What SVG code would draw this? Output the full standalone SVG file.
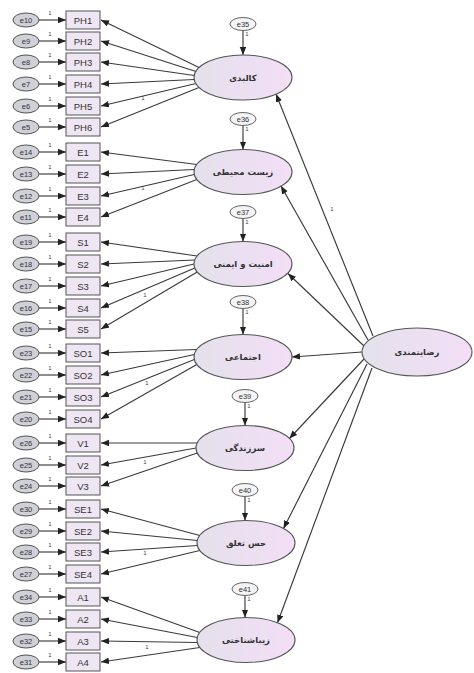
<svg xmlns="http://www.w3.org/2000/svg" width="474" height="673" viewBox="0 0 474 673">
<style>
.box{fill:#efe6f3;stroke:#555;stroke-width:1}
.err{fill:#d0d0d8;stroke:#555;stroke-width:1}
.merr{fill:#f4f4f6;stroke:#666;stroke-width:1}
.lat{fill:url(#lg);stroke:#555;stroke-width:1.1}
.t{font-family:"Liberation Sans",Arial,sans-serif;font-size:9.5px;fill:#333;text-anchor:middle;dominant-baseline:central}
.te{font-family:"Liberation Sans",Arial,sans-serif;font-size:7.5px;fill:#333;text-anchor:middle;dominant-baseline:central}
.ta{font-family:"DejaVu Sans","Noto Sans",sans-serif;font-size:8.5px;font-weight:bold;fill:#333;text-anchor:middle;dominant-baseline:central}
.one{font-family:"Liberation Sans",Arial,sans-serif;font-size:6px;fill:#444;text-anchor:middle}
.c line{stroke:#3a3a3a;stroke-width:1.15;marker-end:url(#ah)}
</style>
<defs>
<linearGradient id="lg" x1="0" y1="0" x2="1" y2="0">
<stop offset="0" stop-color="#e4e1ec"/>
<stop offset="1" stop-color="#f3def6"/>
</linearGradient>
<marker id="ah" markerUnits="userSpaceOnUse" markerWidth="9" markerHeight="7" refX="8" refY="3.25" orient="auto">
<path d="M0,0 L8,3.25 L0,6.5 z" fill="#222"/>
</marker>
</defs>
<rect width="474" height="673" fill="#fff"/>

<g class="c" id="connectors">
<!-- error to indicators -->
<line x1="39" y1="20" x2="66" y2="20"/><line x1="39" y1="41" x2="66" y2="41"/><line x1="39" y1="62" x2="66" y2="62"/><line x1="39" y1="84" x2="66" y2="84"/><line x1="39" y1="106" x2="66" y2="106"/><line x1="39" y1="127" x2="66" y2="127"/>
<line x1="39" y1="152" x2="66" y2="152"/><line x1="39" y1="174" x2="66" y2="174"/><line x1="39" y1="196" x2="66" y2="196"/><line x1="39" y1="217" x2="66" y2="217"/>
<line x1="39" y1="242" x2="66" y2="242"/><line x1="39" y1="264" x2="66" y2="264"/><line x1="39" y1="286" x2="66" y2="286"/><line x1="39" y1="308" x2="66" y2="308"/><line x1="39" y1="329" x2="66" y2="329"/>
<line x1="39" y1="353" x2="66" y2="353"/><line x1="39" y1="375" x2="66" y2="375"/><line x1="39" y1="397" x2="66" y2="397"/><line x1="39" y1="419" x2="66" y2="419"/>
<line x1="39" y1="443" x2="66" y2="443"/><line x1="39" y1="465" x2="66" y2="465"/><line x1="39" y1="486" x2="66" y2="486"/>
<line x1="39" y1="509" x2="66" y2="509"/><line x1="39" y1="531" x2="66" y2="531"/><line x1="39" y1="552" x2="66" y2="552"/><line x1="39" y1="574" x2="66" y2="574"/>
<line x1="39" y1="597" x2="66" y2="597"/><line x1="39" y1="619" x2="66" y2="619"/><line x1="39" y1="641" x2="66" y2="641"/><line x1="39" y1="662" x2="66" y2="662"/>
<!-- latents to indicators -->
<line x1="199" y1="67.5" x2="101" y2="20"/><line x1="196" y1="71.5" x2="101" y2="41"/><line x1="194.2" y1="75.5" x2="101" y2="62"/><line x1="194.2" y1="79.5" x2="101" y2="84"/><line x1="196" y1="83.5" x2="101" y2="106"/><line x1="199" y1="87.5" x2="101" y2="127"/>
<line x1="196.8" y1="164.5" x2="101" y2="152"/><line x1="194.3" y1="169.5" x2="101" y2="174"/><line x1="194.3" y1="174.5" x2="101" y2="196"/><line x1="196.8" y1="179.5" x2="101" y2="217"/>
<line x1="197.2" y1="256" x2="101" y2="242"/><line x1="194.8" y1="260" x2="101" y2="264"/><line x1="194" y1="264" x2="101" y2="286"/><line x1="194.8" y1="268" x2="101" y2="308"/><line x1="197.2" y1="272" x2="101" y2="329"/>
<line x1="196.8" y1="349.5" x2="101" y2="353"/><line x1="194.3" y1="354.5" x2="101" y2="375"/><line x1="194.3" y1="359.5" x2="101" y2="397"/><line x1="196.8" y1="364.5" x2="101" y2="419"/>
<line x1="197.2" y1="443" x2="101" y2="443"/><line x1="196" y1="448" x2="101" y2="465"/><line x1="197.2" y1="453" x2="101" y2="486"/>
<line x1="199.8" y1="535.5" x2="101" y2="509"/><line x1="197.3" y1="540.5" x2="101" y2="531"/><line x1="197.3" y1="545.5" x2="101" y2="552"/><line x1="199.8" y1="550.5" x2="101" y2="574"/>
<line x1="199.8" y1="632.5" x2="101" y2="597"/><line x1="197.3" y1="637.5" x2="101" y2="619"/><line x1="197.3" y1="642.5" x2="101" y2="641"/><line x1="199.8" y1="647.5" x2="101" y2="662"/>
<!-- structural errors -->
<line x1="243" y1="30.5" x2="243" y2="55"/>
<line x1="243" y1="125.5" x2="243" y2="149.5"/>
<line x1="243" y1="218.5" x2="243" y2="241.5"/>
<line x1="243" y1="308.5" x2="243" y2="334.5"/>
<line x1="245" y1="402.5" x2="245" y2="425.5"/>
<line x1="245" y1="496.5" x2="245" y2="520.5"/>
<line x1="245" y1="595.5" x2="245" y2="617.5"/>
<!-- main latent to sub latents -->
<line x1="373" y1="336" x2="276" y2="94"/>
<line x1="368" y1="340" x2="281" y2="186"/>
<line x1="364" y1="346" x2="288" y2="273.5"/>
<line x1="362" y1="352" x2="292" y2="357"/>
<line x1="364" y1="359" x2="289.4" y2="438.5"/>
<line x1="367" y1="364" x2="283.5" y2="528.5"/>
<line x1="372" y1="368" x2="277.5" y2="622.8"/>
</g>

<g id="labels-one">
<text class="one" x="50" y="15">1</text><text class="one" x="50" y="36">1</text><text class="one" x="50" y="57">1</text><text class="one" x="50" y="79">1</text><text class="one" x="50" y="101">1</text><text class="one" x="50" y="122">1</text>
<text class="one" x="50" y="147">1</text><text class="one" x="50" y="169">1</text><text class="one" x="50" y="191">1</text><text class="one" x="50" y="212">1</text>
<text class="one" x="50" y="237">1</text><text class="one" x="50" y="259">1</text><text class="one" x="50" y="281">1</text><text class="one" x="50" y="303">1</text><text class="one" x="50" y="324">1</text>
<text class="one" x="50" y="348">1</text><text class="one" x="50" y="370">1</text><text class="one" x="50" y="392">1</text><text class="one" x="50" y="414">1</text>
<text class="one" x="50" y="438">1</text><text class="one" x="50" y="460">1</text><text class="one" x="50" y="481">1</text>
<text class="one" x="50" y="504">1</text><text class="one" x="50" y="526">1</text><text class="one" x="50" y="547">1</text><text class="one" x="50" y="569">1</text>
<text class="one" x="50" y="592">1</text><text class="one" x="50" y="614">1</text><text class="one" x="50" y="636">1</text><text class="one" x="50" y="657">1</text>
<text class="one" x="143" y="100">1</text><text class="one" x="143" y="190">1</text><text class="one" x="145" y="297">1</text><text class="one" x="147" y="385">1</text><text class="one" x="145" y="464">1</text><text class="one" x="145" y="555">1</text><text class="one" x="147" y="649">1</text>
<text class="one" x="247" y="36">1</text><text class="one" x="247" y="131">1</text><text class="one" x="247" y="224">1</text><text class="one" x="247" y="314">1</text><text class="one" x="249" y="408">1</text><text class="one" x="249" y="502">1</text><text class="one" x="249" y="601">1</text>
<text class="one" x="332" y="211">1</text>
</g>

<g id="indicators">
<g id="PH1"><ellipse class="err" cx="26" cy="20" rx="13" ry="7"/><text class="te" x="26" y="20">e10</text><rect class="box" x="66" y="11" width="34" height="18"/><text class="t" x="83" y="20">PH1</text></g>
<g id="PH2"><ellipse class="err" cx="26" cy="41" rx="13" ry="7"/><text class="te" x="26" y="41">e9</text><rect class="box" x="66" y="32" width="34" height="18"/><text class="t" x="83" y="41">PH2</text></g>
<g id="PH3"><ellipse class="err" cx="26" cy="62" rx="13" ry="7"/><text class="te" x="26" y="62">e8</text><rect class="box" x="66" y="53" width="34" height="18"/><text class="t" x="83" y="62">PH3</text></g>
<g id="PH4"><ellipse class="err" cx="26" cy="84" rx="13" ry="7"/><text class="te" x="26" y="84">e7</text><rect class="box" x="66" y="75" width="34" height="18"/><text class="t" x="83" y="84">PH4</text></g>
<g id="PH5"><ellipse class="err" cx="26" cy="106" rx="13" ry="7"/><text class="te" x="26" y="106">e6</text><rect class="box" x="66" y="97" width="34" height="18"/><text class="t" x="83" y="106">PH5</text></g>
<g id="PH6"><ellipse class="err" cx="26" cy="127" rx="13" ry="7"/><text class="te" x="26" y="127">e5</text><rect class="box" x="66" y="118" width="34" height="18"/><text class="t" x="83" y="127">PH6</text></g>
<g id="E1"><ellipse class="err" cx="26" cy="152" rx="13" ry="7"/><text class="te" x="26" y="152">e14</text><rect class="box" x="66" y="143" width="34" height="18"/><text class="t" x="83" y="152">E1</text></g>
<g id="E2"><ellipse class="err" cx="26" cy="174" rx="13" ry="7"/><text class="te" x="26" y="174">e13</text><rect class="box" x="66" y="165" width="34" height="18"/><text class="t" x="83" y="174">E2</text></g>
<g id="E3"><ellipse class="err" cx="26" cy="196" rx="13" ry="7"/><text class="te" x="26" y="196">e12</text><rect class="box" x="66" y="187" width="34" height="18"/><text class="t" x="83" y="196">E3</text></g>
<g id="E4"><ellipse class="err" cx="26" cy="217" rx="13" ry="7"/><text class="te" x="26" y="217">e11</text><rect class="box" x="66" y="208" width="34" height="18"/><text class="t" x="83" y="217">E4</text></g>
<g id="S1"><ellipse class="err" cx="26" cy="242" rx="13" ry="7"/><text class="te" x="26" y="242">e19</text><rect class="box" x="66" y="233" width="34" height="18"/><text class="t" x="83" y="242">S1</text></g>
<g id="S2"><ellipse class="err" cx="26" cy="264" rx="13" ry="7"/><text class="te" x="26" y="264">e18</text><rect class="box" x="66" y="255" width="34" height="18"/><text class="t" x="83" y="264">S2</text></g>
<g id="S3"><ellipse class="err" cx="26" cy="286" rx="13" ry="7"/><text class="te" x="26" y="286">e17</text><rect class="box" x="66" y="277" width="34" height="18"/><text class="t" x="83" y="286">S3</text></g>
<g id="S4"><ellipse class="err" cx="26" cy="308" rx="13" ry="7"/><text class="te" x="26" y="308">e16</text><rect class="box" x="66" y="299" width="34" height="18"/><text class="t" x="83" y="308">S4</text></g>
<g id="S5"><ellipse class="err" cx="26" cy="329" rx="13" ry="7"/><text class="te" x="26" y="329">e15</text><rect class="box" x="66" y="320" width="34" height="18"/><text class="t" x="83" y="329">S5</text></g>
<g id="SO1"><ellipse class="err" cx="26" cy="353" rx="13" ry="7"/><text class="te" x="26" y="353">e23</text><rect class="box" x="66" y="344" width="34" height="18"/><text class="t" x="83" y="353">SO1</text></g>
<g id="SO2"><ellipse class="err" cx="26" cy="375" rx="13" ry="7"/><text class="te" x="26" y="375">e22</text><rect class="box" x="66" y="366" width="34" height="18"/><text class="t" x="83" y="375">SO2</text></g>
<g id="SO3"><ellipse class="err" cx="26" cy="397" rx="13" ry="7"/><text class="te" x="26" y="397">e21</text><rect class="box" x="66" y="388" width="34" height="18"/><text class="t" x="83" y="397">SO3</text></g>
<g id="SO4"><ellipse class="err" cx="26" cy="419" rx="13" ry="7"/><text class="te" x="26" y="419">e20</text><rect class="box" x="66" y="410" width="34" height="18"/><text class="t" x="83" y="419">SO4</text></g>
<g id="V1"><ellipse class="err" cx="26" cy="443" rx="13" ry="7"/><text class="te" x="26" y="443">e26</text><rect class="box" x="66" y="434" width="34" height="18"/><text class="t" x="83" y="443">V1</text></g>
<g id="V2"><ellipse class="err" cx="26" cy="465" rx="13" ry="7"/><text class="te" x="26" y="465">e25</text><rect class="box" x="66" y="456" width="34" height="18"/><text class="t" x="83" y="465">V2</text></g>
<g id="V3"><ellipse class="err" cx="26" cy="486" rx="13" ry="7"/><text class="te" x="26" y="486">e24</text><rect class="box" x="66" y="477" width="34" height="18"/><text class="t" x="83" y="486">V3</text></g>
<g id="SE1"><ellipse class="err" cx="26" cy="509" rx="13" ry="7"/><text class="te" x="26" y="509">e30</text><rect class="box" x="66" y="500" width="34" height="18"/><text class="t" x="83" y="509">SE1</text></g>
<g id="SE2"><ellipse class="err" cx="26" cy="531" rx="13" ry="7"/><text class="te" x="26" y="531">e29</text><rect class="box" x="66" y="522" width="34" height="18"/><text class="t" x="83" y="531">SE2</text></g>
<g id="SE3"><ellipse class="err" cx="26" cy="552" rx="13" ry="7"/><text class="te" x="26" y="552">e28</text><rect class="box" x="66" y="543" width="34" height="18"/><text class="t" x="83" y="552">SE3</text></g>
<g id="SE4"><ellipse class="err" cx="26" cy="574" rx="13" ry="7"/><text class="te" x="26" y="574">e27</text><rect class="box" x="66" y="565" width="34" height="18"/><text class="t" x="83" y="574">SE4</text></g>
<g id="A1"><ellipse class="err" cx="26" cy="597" rx="13" ry="7"/><text class="te" x="26" y="597">e34</text><rect class="box" x="66" y="588" width="34" height="18"/><text class="t" x="83" y="597">A1</text></g>
<g id="A2"><ellipse class="err" cx="26" cy="619" rx="13" ry="7"/><text class="te" x="26" y="619">e33</text><rect class="box" x="66" y="610" width="34" height="18"/><text class="t" x="83" y="619">A2</text></g>
<g id="A3"><ellipse class="err" cx="26" cy="641" rx="13" ry="7"/><text class="te" x="26" y="641">e32</text><rect class="box" x="66" y="632" width="34" height="18"/><text class="t" x="83" y="641">A3</text></g>
<g id="A4"><ellipse class="err" cx="26" cy="662" rx="13" ry="7"/><text class="te" x="26" y="662">e31</text><rect class="box" x="66" y="653" width="34" height="18"/><text class="t" x="83" y="662">A4</text></g>
</g>

<g id="latents">
<g id="L1"><ellipse class="merr" cx="243" cy="24" rx="13" ry="6.5"/><text class="te" x="243" y="24">e35</text><ellipse class="lat" cx="243" cy="77.5" rx="49" ry="22.5"/><text class="ta" x="243" y="77.5">کالبدی</text></g>
<g id="L2"><ellipse class="merr" cx="243" cy="119" rx="13" ry="6.5"/><text class="te" x="243" y="119">e36</text><ellipse class="lat" cx="243" cy="172" rx="49" ry="22.5"/><text class="ta" x="243" y="172">زیست محیطی</text></g>
<g id="L3"><ellipse class="merr" cx="243" cy="212" rx="13" ry="6.5"/><text class="te" x="243" y="212">e37</text><ellipse class="lat" cx="243" cy="264" rx="49" ry="22.5"/><text class="ta" x="243" y="264">امنیت و ایمنی</text></g>
<g id="L4"><ellipse class="merr" cx="243" cy="302" rx="13" ry="6.5"/><text class="te" x="243" y="302">e38</text><ellipse class="lat" cx="243" cy="357" rx="49" ry="22.5"/><text class="ta" x="243" y="357">اجتماعی</text></g>
<g id="L5"><ellipse class="merr" cx="245" cy="396" rx="13" ry="6.5"/><text class="te" x="245" y="396">e39</text><ellipse class="lat" cx="245" cy="448" rx="49" ry="22.5"/><text class="ta" x="245" y="448">سرزندگی</text></g>
<g id="L6"><ellipse class="merr" cx="245" cy="490" rx="13" ry="6.5"/><text class="te" x="245" y="490">e40</text><ellipse class="lat" cx="246" cy="543" rx="49" ry="22.5"/><text class="ta" x="246" y="543">حس تعلق</text></g>
<g id="L7"><ellipse class="merr" cx="245" cy="589" rx="13" ry="6.5"/><text class="te" x="245" y="589">e41</text><ellipse class="lat" cx="246" cy="640" rx="49" ry="22.5"/><text class="ta" x="246" y="640">زیباشناختی</text></g>
<g id="main"><ellipse class="lat" cx="417" cy="352" rx="55" ry="24"/><text class="ta" x="417" y="352">رضایتمندی</text></g>
</g>
</svg>
